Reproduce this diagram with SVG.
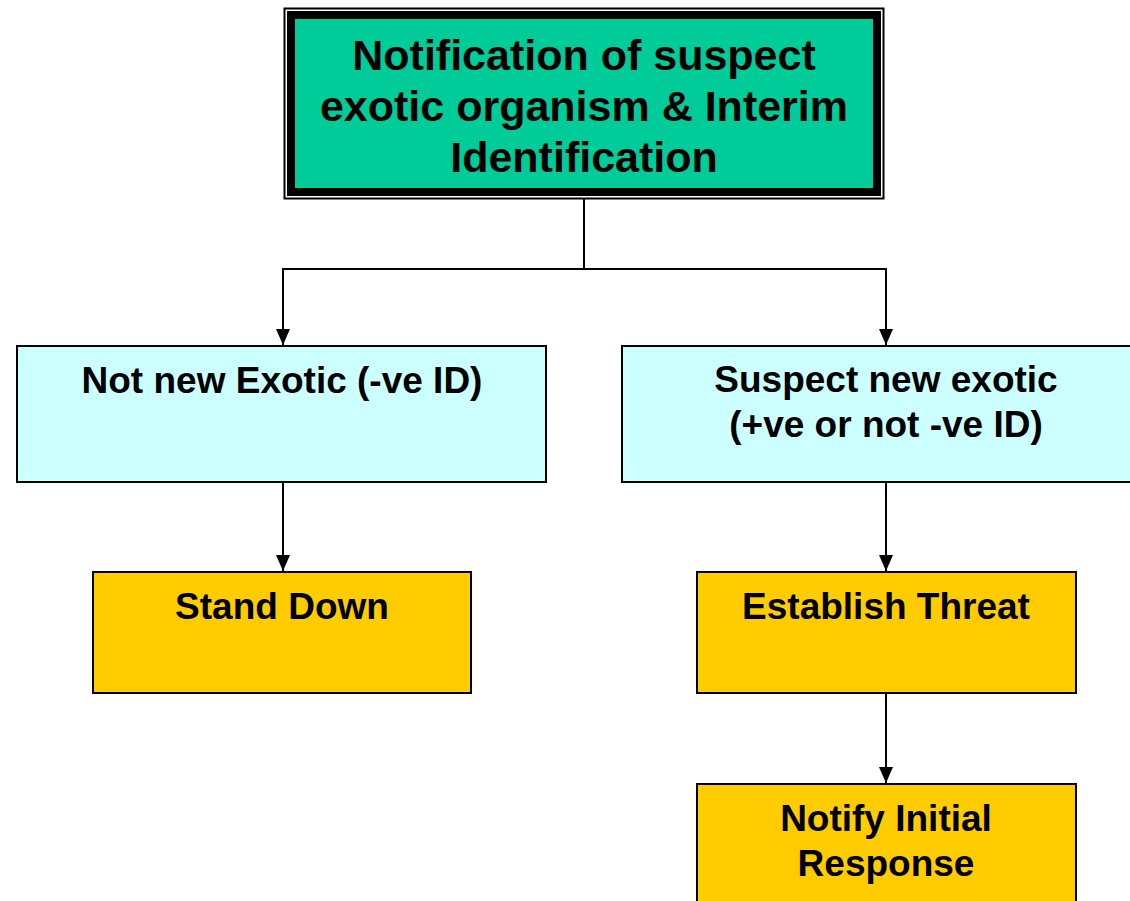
<svg xmlns="http://www.w3.org/2000/svg" width="1130" height="901" viewBox="0 0 1130 901">
<style>
.t{font-family:"Liberation Sans",Arial,sans-serif;font-weight:bold;fill:#000;text-anchor:middle}
.big{font-size:43px}
.med{font-size:37px}
.cyan{fill:#CCFFFF;stroke:#000;stroke-width:2}
.yel{fill:#FFCC00;stroke:#000;stroke-width:2}
.con{fill:none;stroke:#000;stroke-width:2}
</style>
<defs>
<marker id="arr" viewBox="0 0 16 14" refX="16" refY="7" markerWidth="16" markerHeight="14" markerUnits="userSpaceOnUse" orient="auto">
<path d="M0,0 L16,7 L0,14 Z" fill="#000"/>
</marker>
</defs>
<rect width="1130" height="901" fill="#fff"/>
<g id="connectors">
<path class="con" d="M584,199 V269"/>
<path class="con" d="M584,269 H283 V345" marker-end="url(#arr)"/>
<path class="con" d="M584,269 H886 V345" marker-end="url(#arr)"/>
<path class="con" d="M283,482 V571" marker-end="url(#arr)"/>
<path class="con" d="M886,482 V571" marker-end="url(#arr)"/>
<path class="con" d="M886,693 V783" marker-end="url(#arr)"/>
</g>
<g id="n1">
<rect x="284.5" y="8.5" width="599" height="190" fill="#fff" stroke="#000" stroke-width="2"/>
<rect x="291" y="15" width="586" height="177" fill="#00CC99" stroke="#000" stroke-width="8"/>
<text class="t big" x="584" y="70">Notification of suspect</text>
<text class="t big" x="584" y="121">exotic organism &amp; Interim</text>
<text class="t big" x="584" y="172">Identification</text>
</g>
<g id="n2">
<rect class="cyan" x="17" y="346" width="529" height="136"/>
<text class="t med" x="282" y="393">Not new Exotic (-ve ID)</text>
</g>
<g id="n3">
<rect class="cyan" x="622" y="346" width="529" height="136"/>
<text class="t med" x="886" y="392">Suspect new exotic</text>
<text class="t med" x="886" y="437">(+ve or not -ve ID)</text>
</g>
<g id="n4">
<rect class="yel" x="93" y="572" width="378" height="121"/>
<text class="t med" x="282" y="619">Stand Down</text>
</g>
<g id="n5">
<rect class="yel" x="697" y="572" width="379" height="121"/>
<text class="t med" x="886" y="619">Establish Threat</text>
</g>
<g id="n6">
<rect class="yel" x="697" y="784" width="379" height="130"/>
<text class="t med" x="886" y="831">Notify Initial</text>
<text class="t med" x="886" y="876">Response</text>
</g>
</svg>
